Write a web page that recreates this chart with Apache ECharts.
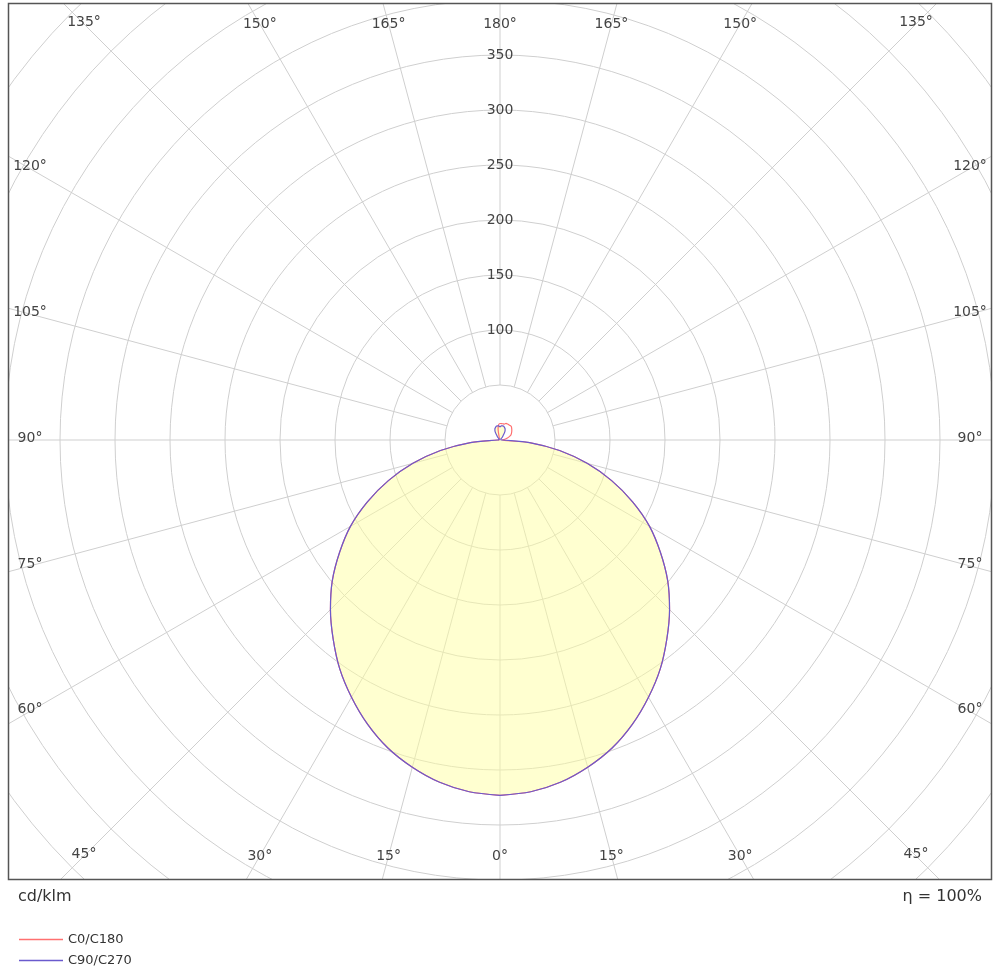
<!DOCTYPE html><html><head><meta charset="utf-8">
<script src="https://cdn.jsdelivr.net/npm/echarts@6/dist/echarts.min.js"></script>
<style>html,body{margin:0;padding:0;background:#fff}#c{width:1000px;height:977px}</style></head><body><div id="c"></div>
<script>
const gammas=[0,5,10,15,20,25,30,35,40,45,50,55,60,65,70,75,80,85,90,95,100,105,110,115,120,125,130,135,140,145,150,155,160,165,170,175,180];
const C0=[323,321,316,308,298,285,270,254,236,218,199,178,157,133,108,82,55,27,2,3,5,7,9,11,12,13,14,15,16,16,16,16,16,15,15,15,15];
const C180=[323,321,316,308,298,285,270,254,236,218,199,178,157,133,108,82,55,27,2,1,1,1,1,1,1,1,1,1,1,1,1,1,2,3,10,14,15];
const C90=[323,321,316,308,298,285,270,254,236,218,199,178,157,133,108,82,55,27,2,1,1,1,1,1,1,1,1,1,3,5,9,11,12,13,13,13,12];
const C270=C90.slice();
const angleTicks=[0,15,30,45,60,75,90,105,120,135,150,165,180];
const radiusTicks=[100,150,200,250,300,350];
const gridRings=[50,600];

function curve(left,right){const d=[];gammas.forEach((g,i)=>d.push([left[i],g]));for(let i=gammas.length-1;i>=0;i--)d.push([right[i],i===0?360:360-gammas[i]]);return d;}
const spokes=[];
for(let a=0;a<360;a+=15){spokes.push({type:'line',coordinateSystem:'polar',silent:true,symbol:'none',z:1,lineStyle:{color:'#cfcfcf',width:1},data:[[gridRings[0],a],[gridRings[1],a]]});}
const chart=echarts.init(document.getElementById('c'));
chart.setOption({
 animation:false,
 polar:{center:[500,440],radius:660},
 angleAxis:{type:'value',min:0,max:360,startAngle:-90,clockwise:true,axisLine:{show:false},axisTick:{show:false},axisLabel:{show:false},splitLine:{show:false}},
 radiusAxis:{type:'value',min:0,max:600,interval:50,axisLine:{show:false},axisTick:{show:false},axisLabel:{show:false},splitLine:{show:true,lineStyle:{color:'#cfcfcf',width:1}}},
 legend:{data:['C0/C180','C90/C270'],orient:'vertical',left:14,top:928,itemWidth:44,itemHeight:1.5,icon:'rect',itemGap:8,z:300,textStyle:{fontFamily:'DejaVu Sans',fontSize:13,color:'#333'}},
 series:[...spokes,
  {name:'fill',type:'line',coordinateSystem:'polar',silent:true,symbol:'none',smooth:0.3,z:2,lineStyle:{width:0},areaStyle:{color:'rgba(255,255,160,0.7)',origin:'start'},data:curve(C270,C90)},
  {name:'C0/C180',type:'line',coordinateSystem:'polar',symbol:'none',smooth:0.3,z:4,color:'#ff7070',lineStyle:{color:'#ff7070',width:1.2},data:curve(C180,C0)},
  {name:'C90/C270',type:'line',coordinateSystem:'polar',symbol:'none',smooth:0.3,z:5,color:'#6a5acd',lineStyle:{color:'#6a5acd',width:1.2},data:curve(C270,C90)}
 ]
});
const cx=500,cy=440,L=30,R=970,T=24,B=856;
const els=[
 {type:'rect',shape:{x:0,y:880,width:1000,height:97},style:{fill:'#fff'},z:100},
 {type:'rect',shape:{x:0,y:0,width:8,height:977},style:{fill:'#fff'},z:100},
 {type:'rect',shape:{x:992,y:0,width:8,height:977},style:{fill:'#fff'},z:100},
 {type:'rect',shape:{x:0,y:0,width:1000,height:3},style:{fill:'#fff'},z:100},
 {type:'rect',shape:{x:8.5,y:3.5,width:983,height:876},style:{fill:'none',stroke:'#555',lineWidth:1.5},z:101},
 {type:'text',x:18,y:897,style:{text:'cd/klm',font:'16px DejaVu Sans',fill:'#333',textVerticalAlign:'middle'},z:102},
 {type:'text',x:982,y:897,style:{text:'η = 100%',font:'16px DejaVu Sans',fill:'#333',textAlign:'right',textVerticalAlign:'middle'},z:102}
];
angleTicks.forEach(g=>{
 [1,-1].forEach(s=>{
  if((g===0||g===180)&&s===-1)return;
  const th=g*Math.PI/180;const dx=s*Math.sin(th),dy=Math.cos(th);
  let t=Infinity;
  if(dx>1e-9)t=Math.min(t,(R-cx)/dx);if(dx<-1e-9)t=Math.min(t,(L-cx)/dx);
  if(dy>1e-9)t=Math.min(t,(B-cy)/dy);if(dy<-1e-9)t=Math.min(t,(T-cy)/dy);
  const x=cx+dx*t,y=cy+dy*t;
  els.push({type:'text',x:x,y:(g>30&&g<150)?y-2:y,style:{text:g+'°',font:'14px DejaVu Sans',fill:'#444',textAlign:'center',textVerticalAlign:'middle'},z:102});
 });
});
radiusTicks.forEach(r=>{const p=chart.convertToPixel({polarIndex:0},[r,180]);
 els.push({type:'text',x:p[0],y:p[1],style:{text:String(r),font:'14px DejaVu Sans',fill:'#444',textAlign:'center',textVerticalAlign:'middle'},z:102});});
chart.setOption({graphic:{elements:els}});
</script></body></html>
